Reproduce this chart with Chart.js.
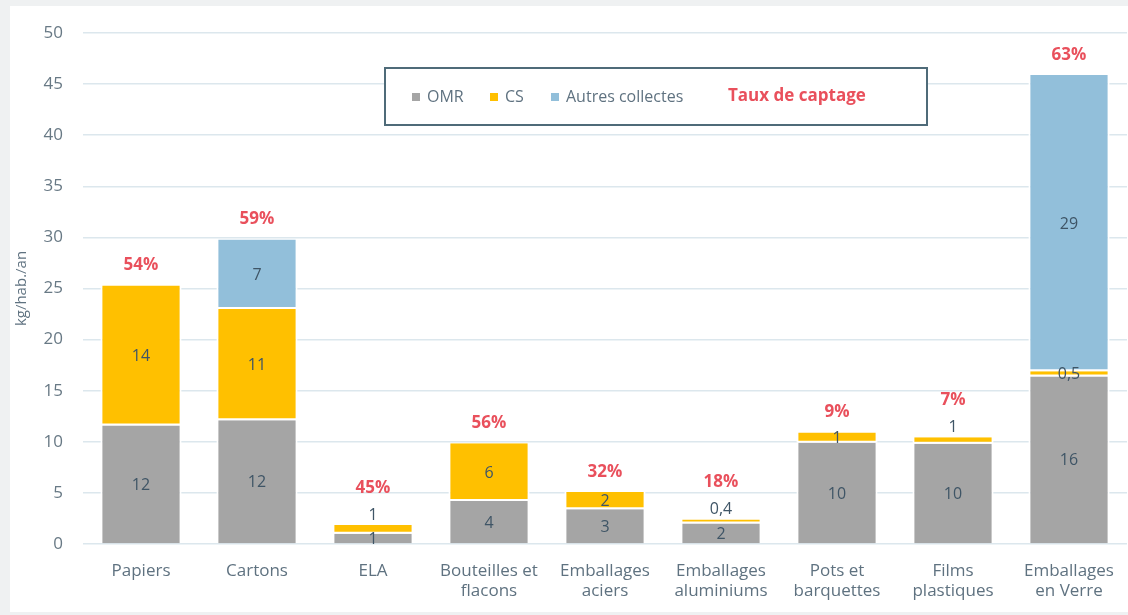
<!DOCTYPE html>
<html>
<head>
<meta charset="utf-8">
<script src="https://cdn.jsdelivr.net/npm/chart.js@4/dist/chart.umd.min.js"></script>
<style>
  html, body { margin: 0; padding: 0; background: #ffffff; }
  #frame { position: absolute; left: 0; top: 0; width: 1128px; height: 615px; box-sizing: border-box;
           border-style: solid; border-color: #eff1f2; border-width: 6px 0 3px 10px; }
  #wrap { position: absolute; left: 0; top: 0; width: 1128px; height: 615px; }
</style>
</head>
<body>
<div id="frame"></div>
<div id="wrap"><canvas id="chart"></canvas></div>
<script>
// Catégories et valeurs (kg/hab./an)
const categories = ['Papiers', 'Cartons', 'ELA', ['Bouteilles et', 'flacons'], ['Emballages', 'aciers'],
    ['Emballages', 'aluminiums'], ['Pots et', 'barquettes'], ['Films', 'plastiques'], ['Emballages', 'en Verre']];
const omr = [11.6, 12.1, 1.0, 4.2, 3.4, 2.0, 9.9, 9.8, 16.4];
const cs = [13.7, 10.9, 0.85, 5.65, 1.7, 0.4, 1.0, 0.65, 0.5];
const autres = [0, 6.8, 0, 0, 0, 0, 0, 0, 29.0];

// Étiquettes affichées
const omrLabels = ['12', '12', '1', '4', '3', '2', '10', '10', '16'];
const csLabels = ['14', '11', '1', '6', '2', '0,4', '1', '1', '0,5'];
const autresLabels = ['', '7', '', '', '', '', '', '', '29'];
const tauxCaptage = ['54%', '59%', '45%', '56%', '32%', '18%', '9%', '7%', '63%'];
const yTicks = [0, 5, 10, 15, 20, 25, 30, 35, 40, 45, 50];

const FONT = "'Open Sans', 'Noto Sans', sans-serif";
const segLabels = [omrLabels, csLabels, autresLabels];

const labelPlugin = {
    id: 'segLabels',
    afterDatasetsDraw(chart) {
        const ctx = chart.ctx;
        ctx.save();
        ctx.textAlign = 'center';
        ctx.textBaseline = 'middle';
        for (let i = 0; i < categories.length; i++) {
            let topY = null, raisedY = null;
            // index du segment le plus haut non nul
            let topDs = -1;
            chart.data.datasets.forEach((ds, d) => { if (ds.data[i] > 0) topDs = d; });
            chart.data.datasets.forEach((ds, d) => {
                if (!(ds.data[i] > 0)) return;
                const el = chart.getDatasetMeta(d).data[i];
                const h = el.base - el.y;
                let y = (el.y + el.base) / 2;
                if (d === topDs && h < 9.5) {
                    y = el.y - 11;
                    raisedY = y;
                }
                if (topY === null || el.y < topY) topY = el.y;
                const txt = segLabels[d][i];
                if (txt) {
                    ctx.font = '16px ' + FONT;
                    ctx.fillStyle = '#3f5566';
                    ctx.fillText(txt, el.x, y + 1);
                }
            });
            const x = chart.getDatasetMeta(0).data[i].x;
            const py = raisedY !== null ? raisedY - 26 : topY - 20;
            ctx.font = 'bold 17px ' + FONT;
            ctx.fillStyle = '#e9505c';
            ctx.fillText(tauxCaptage[i], x, py);
        }
        ctx.restore();
    },
    afterDraw(chart) {
        // légende encadrée
        const ctx = chart.ctx;
        ctx.save();
        ctx.strokeStyle = '#4f6b79';
        ctx.lineWidth = 2;
        ctx.fillStyle = '#ffffff';
        ctx.fillRect(385, 68, 542, 57);
        ctx.strokeRect(385, 68, 542, 57);
        ctx.textBaseline = 'middle';
        ctx.textAlign = 'left';
        const items = [
            { c: '#a5a5a5', t: 'OMR', sx: 412, tx: 427 },
            { c: '#ffc000', t: 'CS', sx: 490, tx: 505 },
            { c: '#92bfda', t: 'Autres collectes', sx: 551, tx: 566 }
        ];
        items.forEach(it => {
            ctx.fillStyle = it.c;
            ctx.fillRect(it.sx, 93, 8, 8);
            ctx.font = '16px ' + FONT;
            ctx.fillStyle = '#5f7280';
            ctx.fillText(it.t, it.tx, 97);
        });
        ctx.font = 'bold 17px ' + FONT;
        ctx.fillStyle = '#e9505c';
        ctx.fillText('Taux de captage', 728, 96);
        ctx.restore();
    }
};

const baseStyle = { borderColor: '#ffffff', borderSkipped: false, barPercentage: 0.7, categoryPercentage: 1 };
const bottomSeg = { borderWidth: { top: 0, left: 2, right: 2, bottom: 0 } };
const upperSeg = { borderWidth: { top: 0, left: 2, right: 2, bottom: 2 } };

new Chart(document.getElementById('chart').getContext('2d'), {
    type: 'bar',
    data: {
        labels: categories,
        datasets: [
            Object.assign({ label: 'OMR', data: omr, backgroundColor: '#a5a5a5' }, baseStyle, bottomSeg),
            Object.assign({ label: 'CS', data: cs, backgroundColor: '#ffc000' }, baseStyle, upperSeg),
            Object.assign({ label: 'Autres collectes', data: autres, backgroundColor: '#92bfda' }, baseStyle, upperSeg)
        ]
    },
    options: {
        responsive: true,
        maintainAspectRatio: false,
        animation: false,
        layout: { padding: { top: 33, right: 1, left: 0, bottom: 0 } },
        plugins: { legend: { display: false }, tooltip: { enabled: false } },
        scales: {
            x: {
                stacked: true,
                grid: { display: false },
                border: { display: false },
                ticks: { color: '#5f7280', font: { family: FONT, size: 17 }, padding: 9, maxRotation: 0, autoSkip: false },
                afterFit(scale) { scale.height = 71; }
            },
            y: {
                stacked: true,
                min: 0,
                max: 50,
                afterBuildTicks(scale) { scale.ticks = yTicks.map(v => ({ value: v })); },
                grid: { color: '#dce7ed', lineWidth: 1.5, drawTicks: false },
                border: { display: false },
                ticks: { color: '#687985', font: { family: FONT, size: 17 }, padding: 20 },
                title: { display: true, text: 'kg/hab./an', color: '#5f7280', font: { family: FONT, size: 15 }, padding: { top: 13, bottom: 0 } },
                afterFit(scale) { scale.width = 83; }
            }
        }
    },
    plugins: [labelPlugin]
});
</script>
</body>
</html>
